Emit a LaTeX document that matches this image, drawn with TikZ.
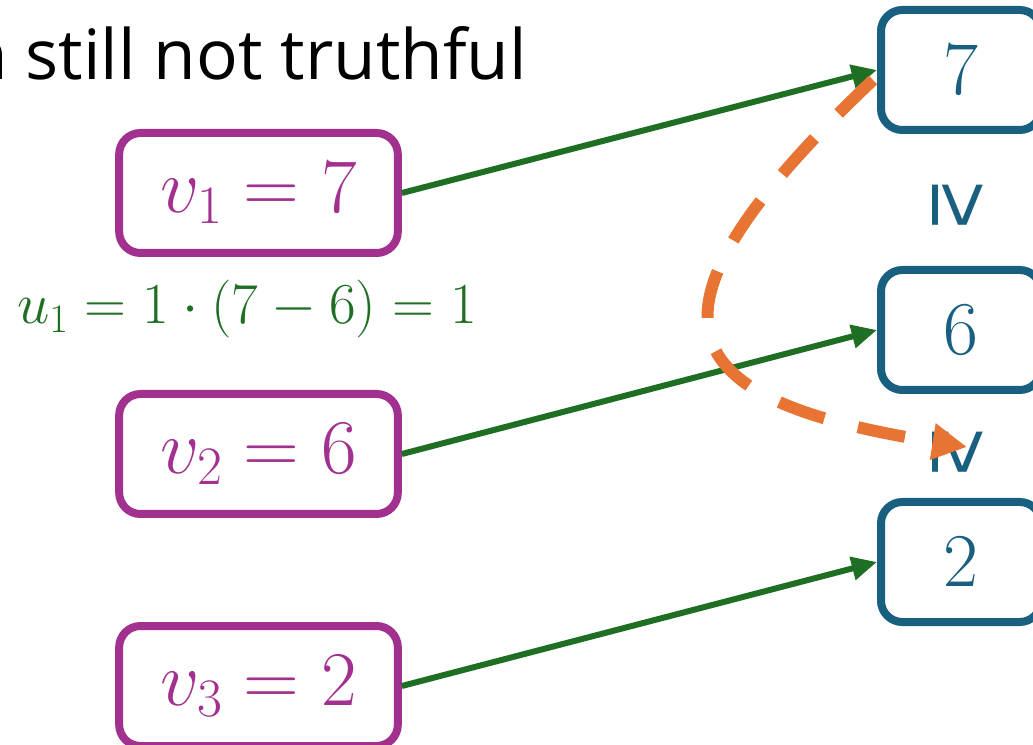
\RequirePackage{fix-cm}
\documentclass[tikz,border=0pt]{standalone}
\usepackage{fontspec}
\newfontfamily\titlefont{Open Sans}
\newfontfamily\symfont{Liberation Sans}
\usetikzlibrary{arrows.meta}
\definecolor{vpurple}{HTML}{A2308F}
\definecolor{bblue}{HTML}{185F80}
\definecolor{agreen}{HTML}{1E6E23}
\definecolor{aorange}{HTML}{E87434}
\tikzset{
  vbox/.style={draw=vpurple, line width=6pt, rounded corners=16pt, minimum width=209pt, minimum height=90pt, text=vpurple, font=\fontsize{58}{62}\selectfont, inner sep=0pt},
  bbox/.style={draw=bblue, line width=6pt, rounded corners=16pt, minimum width=120pt, minimum height=90pt, text=bblue, font=\fontsize{57}{60}\selectfont, inner sep=0pt},
  garrow/.style={draw=agreen, line width=4.5pt, -{Triangle[length=19pt,width=17pt]}},
  oarrow/.style={draw=aorange, line width=9pt, dash pattern=on 36pt off 26pt, -{Triangle[length=26pt,width=26pt]}},
  geq/.style={text=bblue, inner sep=0pt}
}
\begin{document}
\begin{tikzpicture}[x=0.75pt,y=-0.75pt]
\useasboundingbox (0,0) rectangle (1033,745);
\clip (0,0) rectangle (1033,745);
\node[anchor=base east, inner sep=0pt, font=\titlefont\fontsize{52}{60}\selectfont] (title) at (527,80) {n still not truthful};
\node[vbox] (v1) at (258.5,193) {$v_1 = 7$};
\node[vbox] (v2) at (258.5,454) {$v_2 = 6$};
\node[vbox] (v3) at (258.5,686) {$v_3 = 2$};
\node[text=agreen, inner sep=0pt, anchor=base, font=\fontsize{43.5}{47}\selectfont] (u1) at (247,324) {$u_1 = 1\cdot(7-6) = 1$};
\node[bbox] (b7) at (961,70) {$7$};
\node[bbox] (b6) at (961,330) {$6$};
\node[bbox] (b2) at (961,562) {$2$};
\node[geq] (g1) at (958,205) {\resizebox*{38pt}{34pt}{\rotatebox{-90}{\symfont ≥}}};
\node[geq] (g2) at (958,452) {\resizebox*{38pt}{34pt}{\rotatebox{-90}{\symfont ≥}}};
\draw[garrow] (v1.east) -- (b7.west);
\draw[garrow] (v2.east) -- (b6.west);
\draw[garrow] (v3.east) -- (b2.west);
\coordinate (os) at (873,80);
\coordinate (oe) at (967,447);
\draw[oarrow] (os) .. controls (620,320) and (670,400) .. (oe);
\end{tikzpicture}
\end{document}
